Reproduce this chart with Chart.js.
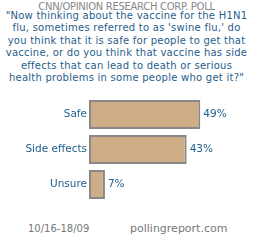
<!DOCTYPE html>
<html>
<head>
<meta charset="utf-8">
<script src="https://cdn.jsdelivr.net/npm/chart.js@4"></script>
<style>
  body { margin: 0; width: 253px; height: 247px; background: #fff; position: relative; overflow: hidden; font-family: "DejaVu Sans", Verdana, sans-serif; }
  #poll { position: absolute; top: 1px; left: 0; width: 253px; text-align: center; color: #888; font-size: 10px; letter-spacing: -0.3px; }
  #question { position: absolute; top: 10px; left: 0; width: 253px; text-align: center; color: #1f5e8c; font-size: 10px; line-height: 12.4px; letter-spacing: 0.25px; white-space: nowrap; }
  #wrap { position: absolute; top: 97px; left: 0; width: 253px; height: 105px; }
  .foot { position: absolute; top: 222px; color: #777; }
</style>
</head>
<body>
<div id="poll">CNN/OPINION RESEARCH CORP. POLL</div>
<div id="question">"Now thinking about the vaccine for the H1N1<br>flu, sometimes referred to as 'swine flu,' do<br>you think that it is safe for people to get that<br>vaccine, or do you think that vaccine has side<br>effects that can lead to death or serious<br>health problems in some people who get it?"</div>
<div id="wrap"><canvas id="pollChart"></canvas></div>
<div class="foot" style="left:28px; font-size:10px; top:223px">10/16-18/09</div>
<div class="foot" style="left:130px; font-size:11px">pollingreport.com</div>
<script>
// answer categories and their shares (percent)
const answers = ['Safe', 'Side effects', 'Unsure'];
const shares = [49, 43, 7];

const blue = '#1f5e8c';

// writes "49%" etc. just right of each bar
const valueLabels = {
    id: 'valueLabels',
    afterDatasetsDraw(chart) {
        const ctx = chart.ctx;
        ctx.save();
        ctx.font = '10.5px "DejaVu Sans", Verdana, sans-serif';
        ctx.fillStyle = blue;
        ctx.textBaseline = 'middle';
        chart.getDatasetMeta(0).data.forEach((bar, i) => {
            ctx.fillText(shares[i] + '%', bar.x + 3, bar.y);
        });
        ctx.restore();
    }
};

new Chart(document.getElementById('pollChart'), {
    type: 'bar',
    data: {
        labels: answers,
        datasets: [{
            data: shares,
            backgroundColor: '#cfad86',
            borderColor: '#888888',
            borderWidth: 2,
            borderSkipped: false,
            barPercentage: 0.83,
            categoryPercentage: 1
        }]
    },
    options: {
        indexAxis: 'y',
        responsive: true,
        maintainAspectRatio: false,
        animation: false,
        layout: { padding: { right: 5 } },
        plugins: { legend: { display: false }, tooltip: { enabled: false } },
        scales: {
            x: { display: false, min: 0, max: 70 },
            y: {
                grid: { display: false, drawTicks: false },
                border: { display: false },
                ticks: { color: blue, padding: 2, font: { family: '"DejaVu Sans", Verdana, sans-serif', size: 10.5 } },
                afterFit(scale) {
                    scale.width = 89;
                    scale.paddingTop = 0;
                    scale.paddingBottom = 0;
                }
            }
        }
    },
    plugins: [valueLabels]
});
</script>
</body>
</html>
